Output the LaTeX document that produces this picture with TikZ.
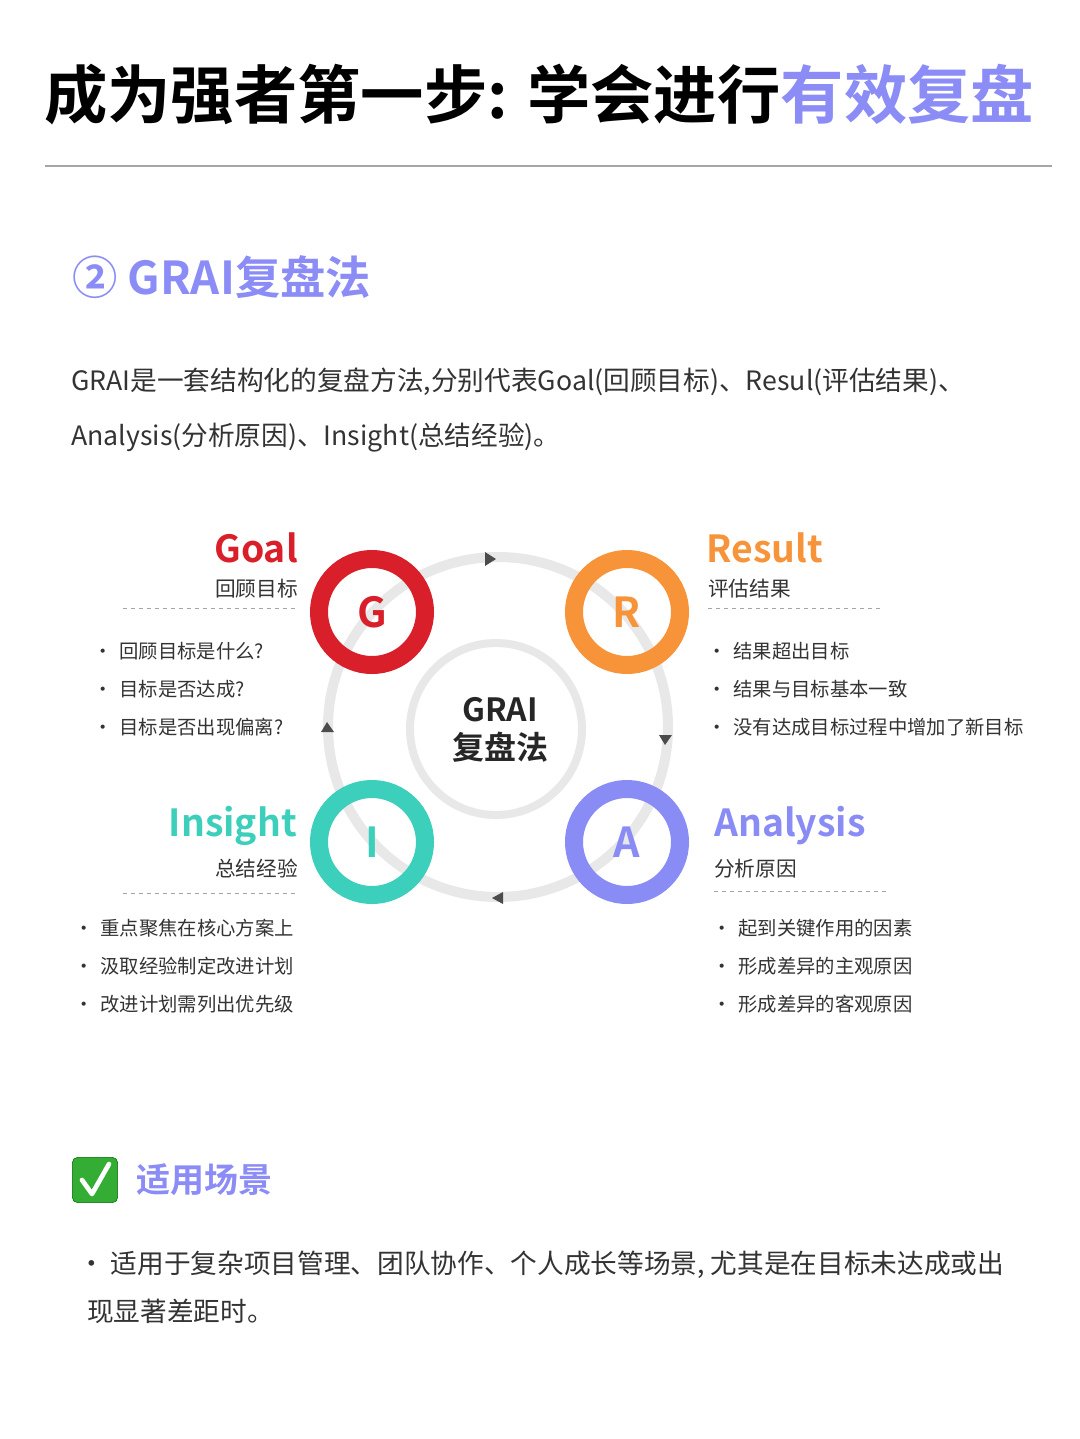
\documentclass[tikz,border=0pt]{standalone}
\usepackage{fontspec}
\setmainfont{Noto Sans CJK SC}
\newfontfamily\cjkb{Noto Sans CJK SC Bold}
\usetikzlibrary{arrows.meta}
\definecolor{pur}{HTML}{8B8CF6}
\definecolor{gred}{HTML}{D9202A}
\definecolor{rorg}{HTML}{F7943A}
\definecolor{iteal}{HTML}{3CCFBB}
\definecolor{apur}{HTML}{8A8CF5}
\definecolor{ring}{HTML}{E8E8E8}
\definecolor{txt}{HTML}{333333}
\tikzset{
  letter/.style={circle,draw=#1,line width=13.5pt,minimum size=79.5pt,inner sep=0pt,text=#1,font=\cjkb\fontsize{31}{31}\selectfont},
  head/.style={font=\cjkb\fontsize{28}{30}\selectfont,text=#1,inner sep=0pt},
  sub/.style={font=\fontsize{15.5}{17}\selectfont,text=txt,inner sep=0pt},
  item/.style={font=\fontsize{14.5}{16}\selectfont,text=txt,inner sep=0pt,anchor=west},
  dashline/.style={draw=gray!70,dashed,line width=0.6pt},
  tri/.style={fill=black!70,draw=none}
}
\newcommand{\blt}[3]{\node[item] at (#1,#2) {\textbullet\hspace{0.35em}#3};}
\begin{document}
\begin{tikzpicture}[x=0.75pt,y=-0.75pt]
\useasboundingbox (0,0) rectangle (1080,1439);
\fill[white] (0,0) rectangle (1080,1439);
% title
\node[anchor=west,inner sep=0pt,font=\cjkb\fontsize{47.5}{50}\selectfont] (title) at (44,95) {成为强者第一步: 学会进行\textcolor{pur}{有效复盘}};
\draw[gray!70,line width=0.8pt] (45,166) -- (1052,166);
\node[anchor=west,inner sep=0pt,text=pur,font=\cjkb\fontsize{34}{36}\selectfont] (sec) at (72,277) {② GRAI复盘法};
\node[anchor=west,inner sep=0pt,text=txt,font=\fontsize{20}{22}\selectfont] (p1) at (71,382) {GRAI是一套结构化的复盘方法,分别代表Goal(回顾目标)、Resul(评估结果)、};
\node[anchor=west,inner sep=0pt,text=txt,font=\fontsize{20}{22}\selectfont] (p2) at (71,438) {Analysis(分析原因)、Insight(总结经验)。};
% rings
\coordinate (c) at (498,727);
\draw[ring,line width=7.5pt] (c) circle (170);
\draw[ring,line width=6pt] (496,729) circle (86);
\node[inner sep=0pt,align=center,font=\cjkb\fontsize{24}{28}\selectfont,text=black!85] (center) at (500,730) {GRAI\\复盘法};
\fill[tri] (485,552) -- (496,559) -- (485,566) -- cycle;
\fill[tri] (659,735) -- (672,735) -- (665,745) -- cycle;
\fill[tri] (503,892) -- (492,898) -- (503,904) -- cycle;
\fill[tri] (321,732) -- (334,732) -- (327,722) -- cycle;
\node[letter=gred] (G) at (372,612) {G};
\node[letter=rorg] (R) at (627,612) {R};
\node[letter=iteal] (I) at (372,842) {I};
\node[letter=apur] (A) at (627,842) {A};
% Goal
\node[head=gred,anchor=east] (gh) at (298,548) {Goal};
\node[sub,anchor=east] (gs) at (298,589) {回顾目标};
\draw[dashline] (123,608) -- (298,608);
\blt{93}{651}{回顾目标是什么?}
\blt{93}{689}{目标是否达成?}
\blt{93}{727}{目标是否出现偏离?}
% Result
\node[head=rorg,anchor=west] (rh) at (706,548) {Result};
\node[sub,anchor=west] (rs) at (708,589) {评估结果};
\draw[dashline] (708,608) -- (883,608);
\blt{707}{651}{结果超出目标}
\blt{707}{689}{结果与目标基本一致}
\blt{707}{727}{没有达成目标过程中增加了新目标}
% Insight
\node[head=iteal,anchor=east] (ih) at (297,826) {Insight};
\node[sub,anchor=east] (is) at (298,869) {总结经验};
\draw[dashline] (123,893) -- (298,893);
\blt{74}{928}{重点聚焦在核心方案上}
\blt{74}{966}{汲取经验制定改进计划}
\blt{74}{1004}{改进计划需列出优先级}
% Analysis
\node[head=apur,anchor=west] (ah) at (714,826) {Analysis};
\node[sub,anchor=west] (as) at (714,869) {分析原因};
\draw[dashline] (714,891) -- (889,891);
\blt{712}{928}{起到关键作用的因素}
\blt{712}{966}{形成差异的主观原因}
\blt{712}{1004}{形成差异的客观原因}
% scene
\node[fill=green!60!black!80,draw=green!40!black,rounded corners=4pt,minimum size=34pt,inner sep=0pt] (chk) at (95,1180) {};
\draw[white,line width=3.5pt,line cap=round,line join=round] (82,1180) -- (92,1194) -- (109,1164);
\node[anchor=west,inner sep=0pt,text=pur,font=\cjkb\fontsize{25.5}{27}\selectfont] (sc) at (136,1180) {适用场景};
\node[anchor=west,inner sep=0pt,text=txt,font=\fontsize{20}{22}\selectfont] (s1) at (78,1265) {\textbullet\ 适用于复杂项目管理、团队协作、个人成长等场景, 尤其是在目标未达成或出};
\node[anchor=west,inner sep=0pt,text=txt,font=\fontsize{20}{22}\selectfont] (s2) at (87,1311) {现显著差距时。};
\end{tikzpicture}
\end{document}
